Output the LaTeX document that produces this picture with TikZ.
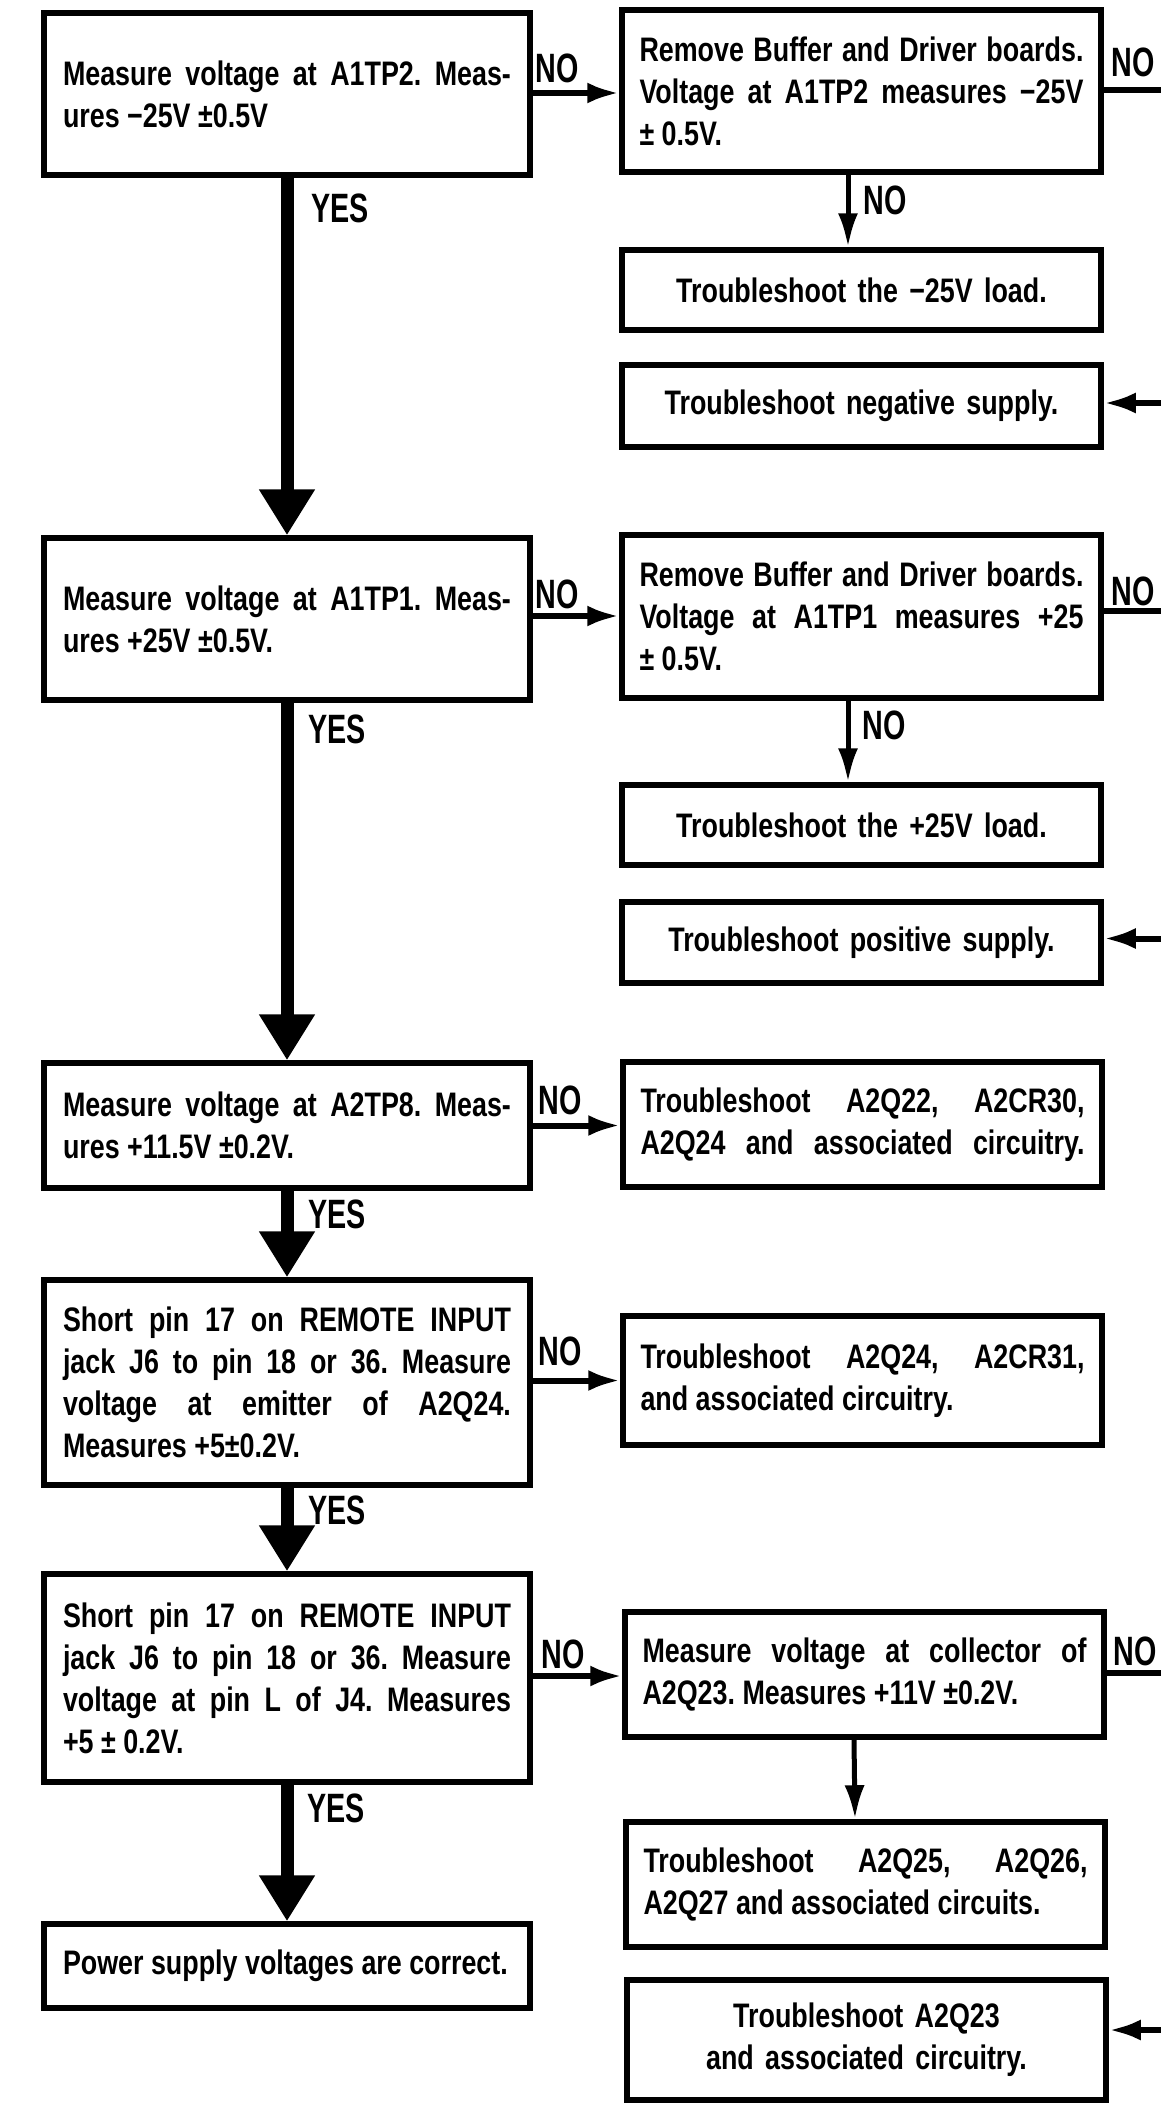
\documentclass[tikz,border=0pt]{standalone}
\usepackage{fontspec}
\newfontfamily\bodyfont{Liberation Sans}[FakeStretch=0.79]
\newfontfamily\labfont{Liberation Sans}[FakeStretch=0.7]
\usetikzlibrary{arrows.meta}
\begin{document}
\tolerance=10000 \hbadness=10000 \hyphenpenalty=10000 \frenchspacing
\begin{tikzpicture}[x=1pt,y=-1pt,
  box/.style={draw, line width=5.5pt, fill=white, inner xsep=0pt, inner ysep=0pt,
    font=\bodyfont\bfseries\fontsize{34}{42}\selectfont, align=justify},
  lbox/.style={box, minimum width=486pt, text width=448pt},
  rbox/.style={box, minimum width=479pt, text width=444pt},
  cbox/.style={rbox, align=center},
  lab/.style={font=\labfont\bfseries\fontsize{41}{41}\selectfont, inner sep=0pt},
  yesarrow/.style={line width=13pt, -{Triangle[length=46pt,width=53pt]}},
  noarrow/.style={line width=6pt, -{Latex[length=32pt,width=21pt]}},
  downarrow/.style={line width=5pt, -{Latex[length=34pt,width=20pt]}},
  plainline/.style={line width=6pt}
]
\path[use as bounding box, fill=white] (0,0) rectangle (1161,2104);
\coordinate (edge) at (1175,0);

% left column
\node[lbox, minimum height=162pt] (L1) at (287,94)
  {Measure voltage at A1TP2. Meas-\linebreak ures −25V ±0.5V};
\node[lbox, minimum height=162pt] (L2) at (287,619)
  {Measure voltage at A1TP1. Meas-\linebreak ures +25V ±0.5V.};
\node[lbox, minimum height=125pt] (L3) at (287,1125.5)
  {Measure voltage at A2TP8. Meas-\linebreak ures +11.5V ±0.2V.};
\node[lbox, minimum height=205pt] (L4) at (287,1382.5)
  {Short pin 17 on REMOTE INPUT\linebreak jack J6 to pin 18 or 36. Measure\linebreak voltage at emitter of A2Q24.\linebreak Measures +5±0.2V.};
\node[lbox, minimum height=208pt] (L5) at (287,1678)
  {Short pin 17 on REMOTE INPUT\linebreak jack J6 to pin 18 or 36. Measure\linebreak voltage at pin L of J4. Measures\linebreak +5 ± 0.2V.};
\node[lbox, minimum height=84pt] (L6) at (287,1966)
  {Power supply voltages are correct.};

% right column
\node[rbox, minimum height=162pt] (R1) at (861.5,91)
  {Remove Buffer and Driver boards.\linebreak Voltage at A1TP2 measures −25V\linebreak ± 0.5V.};
\node[cbox, minimum height=80pt] (R1b) at (861.5,290) {Troubleshoot the −25V load.};
\node[cbox, minimum height=82pt] (R1c) at (861.5,406) {Troubleshoot negative supply.};
\node[rbox, minimum height=163pt] (R2) at (861.5,616.5)
  {Remove Buffer and Driver boards.\linebreak Voltage at A1TP1 measures +25\linebreak ± 0.5V.};
\node[cbox, minimum height=80pt] (R2b) at (861.5,825) {Troubleshoot the +25V load.};
\node[cbox, minimum height=81pt] (R2c) at (861.5,942.5) {Troubleshoot positive supply.};
\node[rbox, minimum height=125pt] (R3) at (862.5,1124.5)
  {\parfillskip=0pt\relax Troubleshoot A2Q22, A2CR30,\linebreak A2Q24 and associated circuitry.\par};
\node[rbox, minimum height=129pt] (R4) at (862.5,1380.5)
  {Troubleshoot A2Q24, A2CR31,\linebreak and associated circuitry.};
\node[rbox, minimum height=125pt] (R5) at (864.5,1674.5)
  {Measure voltage at collector of\linebreak A2Q23. Measures +11V ±0.2V.};
\node[rbox, minimum height=125pt] (R5b) at (865.5,1884.5)
  {Troubleshoot A2Q25, A2Q26,\linebreak A2Q27 and associated circuits.};
\node[cbox, minimum height=120pt] (R5c) at (866.5,2040)
  {Troubleshoot A2Q23\\and associated circuitry.};

% YES connectors
\draw[yesarrow] (L1.south) -- (L2.north);
\draw[yesarrow] (L2.south) -- (L3.north);
\draw[yesarrow] (L3.south) -- (L4.north);
\draw[yesarrow] (L4.south) -- (L5.north);
\draw[yesarrow] (L5.south) -- (L6.north);

% NO connectors left to right
\draw[noarrow] ([yshift=1pt]L1.east) -- ([yshift=1pt]L1.east -| R1.west);
\draw[noarrow] ([yshift=3pt]L2.east) -- ([yshift=3pt]L2.east -| R2.west);
\draw[noarrow] (L3.east) -- (L3.east -| R3.west);
\draw[noarrow] (R4.west -| L4.east) -- (R4.west);
\draw[noarrow] ([yshift=2pt]L5.east) -- ([yshift=2pt]L5.east -| R5.west);

% NO connectors downward in right column
\draw[downarrow] ([xshift=-13.5pt]R1.south) -- ([xshift=-13.5pt]R1b.north);
\draw[downarrow] ([xshift=-13.5pt]R2.south) -- ([xshift=-13.5pt]R2b.north);
\draw[downarrow] ([xshift=-10.5pt]R5.south) -- ([xshift=-10.5pt]R5b.north);

% lines leaving / entering at the right edge
\draw[plainline] ([yshift=1pt]R1.east) -- ([yshift=1pt]R1.east -| edge);
\draw[noarrow] ([yshift=3pt]R1c.east -| edge) -- ([yshift=3pt]R1c.east);
\draw[plainline] ([yshift=6pt]R2.east) -- ([yshift=6pt]R2.east -| edge);
\draw[noarrow] ([yshift=4pt]R2c.east -| edge) -- ([yshift=4pt]R2c.east);
\draw[plainline] ([yshift=1.5pt]R5.east) -- ([yshift=1.5pt]R5.east -| edge);
\draw[noarrow] ([yshift=10pt]R5c.east -| edge) -- ([yshift=10pt]R5c.east);

% labels
\node[lab] (no1) at (557,68) {NO};
\node[lab] (no1r) at (1133,62) {NO};
\node[lab] (no1d) at (885,200) {NO};
\node[lab] (yes1) at (340,208) {YES};
\node[lab] (no2) at (557,594) {NO};
\node[lab] (no2r) at (1133,591) {NO};
\node[lab] (no2d) at (884,725) {NO};
\node[lab] (yes2) at (337,729) {YES};
\node[lab] (no3) at (560,1100) {NO};
\node[lab] (yes3) at (337,1214) {YES};
\node[lab] (no4) at (560,1351) {NO};
\node[lab] (yes4) at (337,1510) {YES};
\node[lab] (no5) at (563,1654) {NO};
\node[lab] (no5r) at (1135,1651) {NO};
\node[lab] (yes5) at (336,1808) {YES};
\end{tikzpicture}
\end{document}
